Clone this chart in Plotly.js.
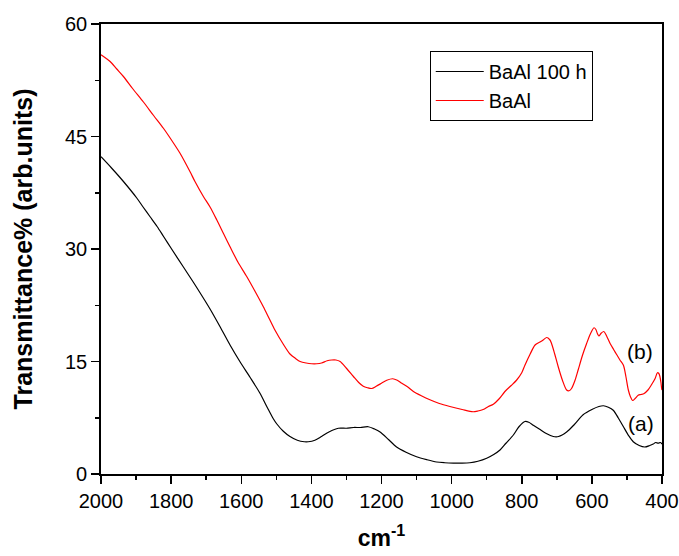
<!DOCTYPE html>
<html>
<head>
<meta charset="utf-8">
<script src="https://cdn.plot.ly/plotly-3.0.1.min.js"></script>
<style>html,body{margin:0;padding:0;background:#fff;}#chart{width:679px;height:556px;}</style>
</head>
<body>
<div id="chart"></div>
<script>
// Series (b): BaAl
const wnB = [2000,1985,1974,1955,1936,1910,1879,1850,1822,1800,1775,1746,1732,1708,1689,1670,1650,1632,1610,1584,1560,1537,1520,1504,1480,1461,1445,1432,1415,1399,1385,1371,1355,1342,1330,1318,1300,1280,1265,1252,1240,1228,1215,1200,1185,1168,1155,1142,1125,1109,1085,1062,1035,1005,970,939,925,910,895,881,865,848,830,815,800,791,776,762,748,738,729,720,715,706,696,684,672,665,658,648,639,627,615,604,594,589,584,580,573,566,558,548,538,529,520,510,503,496,490,484,476,468,460,452,440,430,420,413,409,406,403,401,400];
const tB = [55.9,55.4,55.0,54.0,53.0,51.4,49.6,47.8,46.1,44.6,42.8,40.3,39.0,37.0,35.6,33.9,32.0,30.3,28.3,26.3,24.3,22.3,20.7,19.2,17.3,16.0,15.4,15.0,14.8,14.7,14.7,14.8,15.1,15.2,15.2,15.0,14.1,13.0,12.2,11.7,11.5,11.4,11.7,12.1,12.5,12.7,12.5,12.1,11.6,11.0,10.4,9.9,9.4,9.0,8.6,8.3,8.4,8.6,9.0,9.3,10.0,11.0,11.8,12.5,13.5,14.5,16.0,17.2,17.6,17.9,18.2,17.9,17.4,16.0,14.3,12.5,11.2,11.1,11.4,12.5,13.9,15.8,17.4,18.7,19.5,19.3,18.7,18.4,18.8,19.0,18.4,17.4,16.6,15.9,15.2,14.5,13.0,11.2,10.3,9.8,10.1,10.5,10.6,10.7,11.2,11.9,12.7,13.5,13.4,13.0,12.2,11.4,11.2];

// Series (a): BaAl 100 h
const wnA = [2000,1970,1936,1898,1880,1860,1840,1822,1800,1765,1737,1710,1689,1660,1632,1604,1575,1547,1525,1509,1499,1480,1461,1440,1420,1409,1390,1371,1350,1323,1300,1280,1260,1238,1220,1204,1180,1157,1130,1100,1070,1043,1020,995,970,948,925,900,880,862,845,824,808,791,780,767,750,730,710,695,672,650,625,600,580,567,553,539,525,510,495,482,465,449,435,425,418,411,405,400];
const tA = [42.3,40.8,39.0,36.8,35.6,34.3,33.0,31.7,30.1,27.6,25.6,23.6,22.0,19.6,17.2,15.0,12.9,10.8,8.8,7.4,6.7,5.7,5.0,4.5,4.3,4.3,4.5,5.0,5.6,6.1,6.1,6.2,6.2,6.3,6.0,5.6,4.6,3.6,2.9,2.3,1.9,1.6,1.5,1.45,1.45,1.5,1.7,2.1,2.6,3.2,4.1,5.2,6.3,7.0,6.9,6.5,6.0,5.4,5.0,5.0,5.6,6.6,7.9,8.6,9.0,9.1,8.9,8.5,7.5,6.3,5.1,4.3,3.8,3.6,3.8,4.0,4.2,4.1,4.2,4.0];

const seriesNames = ["BaAl 100 h", "BaAl"];
const curveLabels = ["(a)", "(b)"];
const labelWn = [461, 463];
const labelT = [6.8, 16.3];

const FONT = "Arial, 'Liberation Sans', sans-serif";

const traces = [
  {x: wnA, y: tA, name: seriesNames[0], mode: "lines", line: {color: "#000000", width: 1.2, shape: "spline", smoothing: 0.8}},
  {x: wnB, y: tB, name: seriesNames[1], mode: "lines", line: {color: "#ff0000", width: 1.2, shape: "spline", smoothing: 0.8}}
];

const layout = {
  width: 679, height: 556,
  margin: {l: 101, r: 17, t: 24, b: 82},
  paper_bgcolor: "#ffffff", plot_bgcolor: "#ffffff",
  font: {family: FONT, color: "#000000", size: 20},
  showlegend: true,
  legend: {x: 0.586, y: 0.94, xanchor: "left", yanchor: "top", bordercolor: "#000000", borderwidth: 1,
           bgcolor: "rgba(255,255,255,0)", font: {size: 20, family: FONT}, tracegroupgap: 0, itemwidth: 48},
  xaxis: {
    range: [2000, 400], autorange: false, dtick: 200, tick0: 0,
    showgrid: false, zeroline: false, showline: true, linecolor: "#000000", linewidth: 1.8, mirror: true,
    ticks: "outside", ticklen: 8, tickwidth: 1.5, tickcolor: "#000000",
    minor: {dtick: 100, ticks: "outside", ticklen: 4, tickwidth: 1.5, tickcolor: "#000000", showgrid: false},
    tickfont: {size: 20, family: FONT},
    title: {text: "<b>cm<sup>-1</sup></b>", font: {size: 23, family: FONT}, standoff: 19},
    automargin: false
  },
  yaxis: {
    range: [0, 60], autorange: false, dtick: 15, tick0: 0,
    showgrid: false, zeroline: false, showline: true, linecolor: "#000000", linewidth: 1.8, mirror: true,
    ticks: "outside", ticklen: 8, tickwidth: 1.5, tickcolor: "#000000",
    minor: {dtick: 7.5, ticks: "outside", ticklen: 4, tickwidth: 1.5, tickcolor: "#000000", showgrid: false},
    tickfont: {size: 20, family: FONT},
    title: {text: "<b>Transmittance% (arb.units)</b>", font: {size: 25, family: FONT}, standoff: 25},
    automargin: false
  },
  annotations: curveLabels.map((t, i) => ({
    x: labelWn[i], y: labelT[i], xref: "x", yref: "y", text: t, showarrow: false,
    font: {size: 21, family: FONT, color: "#000000"}
  }))
};

Plotly.newPlot("chart", traces, layout, {displayModeBar: false, staticPlot: true});
</script>
</body>
</html>
